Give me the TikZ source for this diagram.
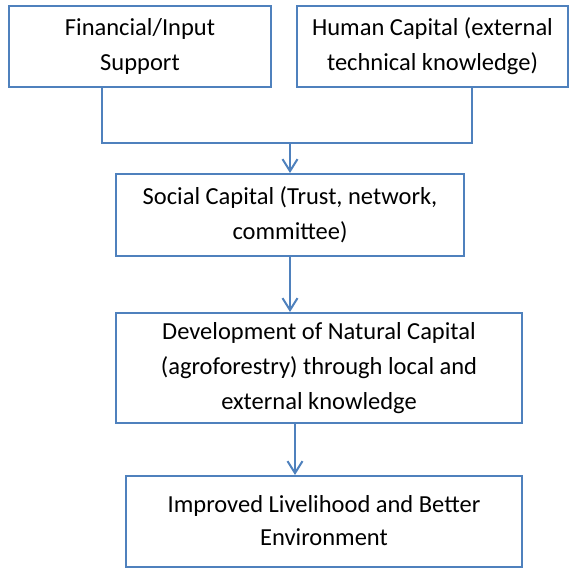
\documentclass[tikz,border=0pt]{standalone}
\usepackage{fontspec}
\setmainfont{Carlito}
\usetikzlibrary{positioning, arrows.meta}

\definecolor{boxblue}{RGB}{79,129,189}

\tikzset{
  capbox/.style={draw=boxblue, line width=2pt, inner sep=0pt, align=center,
                 font=\fontsize{24.5}{35}\selectfont},
  link/.style={draw=boxblue, line width=2pt},
  flow/.style={link, -{Straight Barb[length=12pt,width=15pt,line width=2pt]}}
}

\begin{document}
\begin{tikzpicture}[x=1pt,y=-1pt]
\useasboundingbox (0,0) rectangle (570,569);

\node[capbox, minimum width=262pt, minimum height=81pt] (fin) at (140,46.5) {Financial/Input\\Support};
\node[capbox, minimum width=271pt, minimum height=81pt] (hum) at (432.5,46.5) {Human Capital (external\\technical knowledge)};
\node[capbox, minimum width=348pt, minimum height=82pt] (soc) at (290,215) {Social Capital (Trust, network,\\committee)};
\node[capbox, minimum width=406pt, minimum height=110pt] (nat) at (319,368) {Development of Natural Capital\\(agroforestry) through local and\\external knowledge};
\node[capbox, minimum width=396pt, minimum height=91pt] (liv) at (324,521.5) {\raisebox{2pt}{\shortstack{Improved Livelihood and Better\\[9pt]Environment}}};

% joining the two inputs
\coordinate (join) at (290,143);
\draw[link] ([xshift=94pt]fin.south west) |- (join);
\draw[link] ([xshift=176pt]hum.south west) |- (join);
\draw[flow] (join) -- (soc.north);

\draw[flow] (soc.south) -- (soc.south |- nat.north);
\draw[flow] ([xshift=180pt]nat.south west) -- ([xshift=170pt]liv.north west);
\end{tikzpicture}
\end{document}
